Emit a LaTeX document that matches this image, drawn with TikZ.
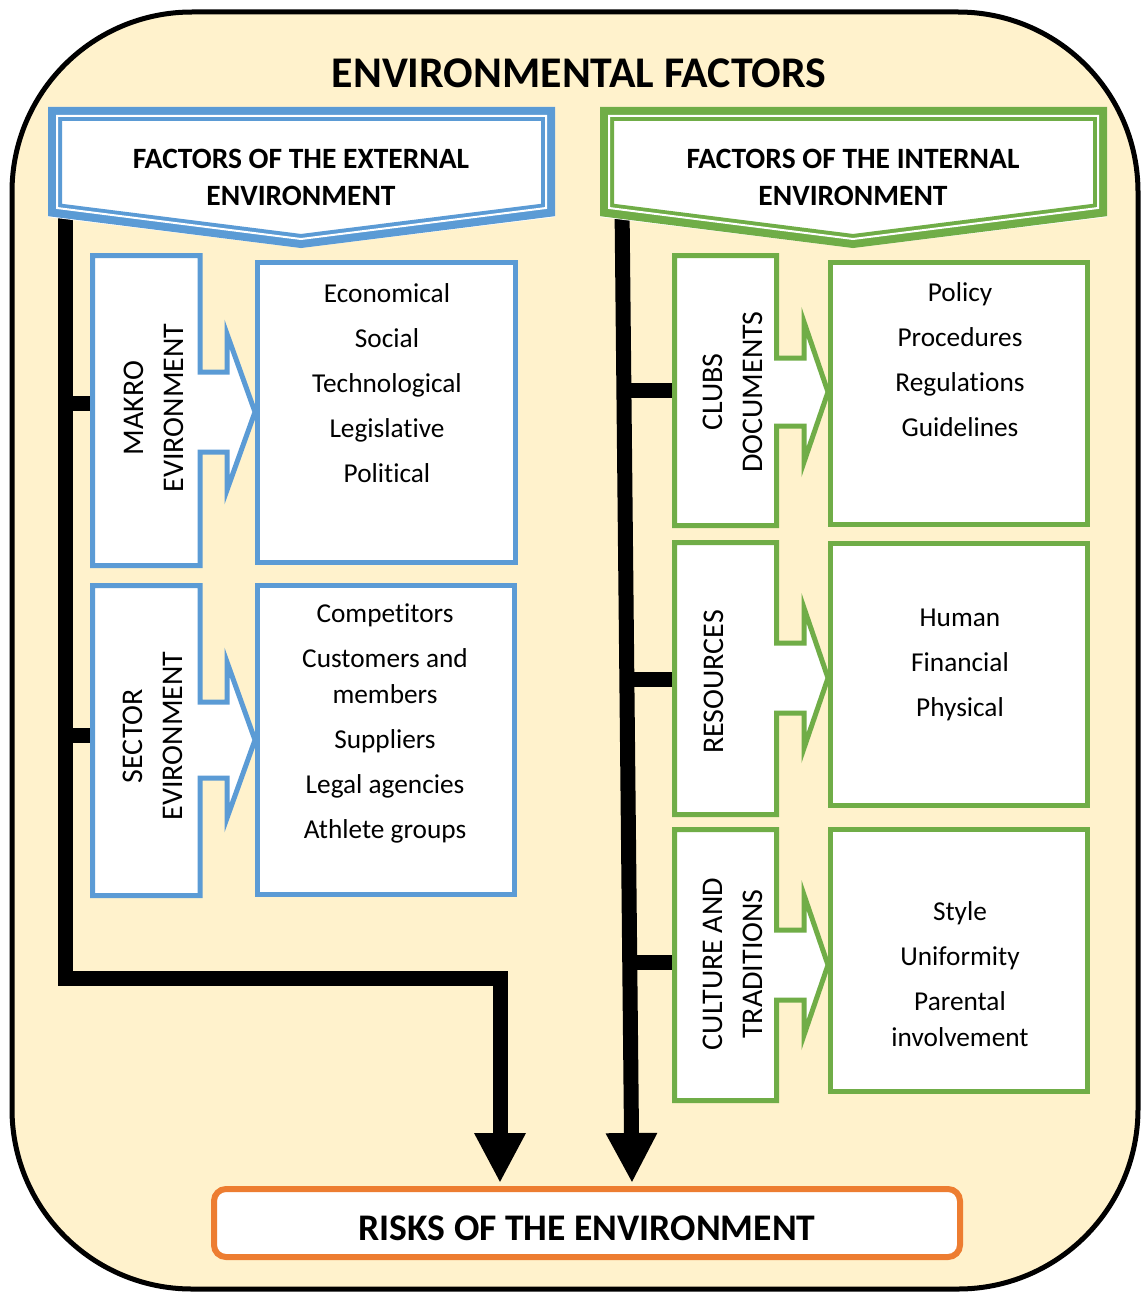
\documentclass[tikz,border=0pt]{standalone}
\usepackage{fontspec}
\setmainfont{Carlito}[Ligatures=NoCommon]
\usetikzlibrary{arrows.meta}
\definecolor{bgy}{RGB}{255,242,204}
\definecolor{cblue}{RGB}{91,155,213}
\definecolor{cgreen}{RGB}{112,173,71}
\definecolor{corange}{RGB}{237,125,49}
\def\HH{78}
% #1 colour, #2 L, #3 R, #4 shoulder x, #5 tip x, #6 top, #7 bottom, #8 centre y, #9 half shaft
\newcommand\notchshape[9]{%
  \draw[#1, line width=5pt, fill=white, line join=miter]
   (#2,#6) -- (#3,#6) -- (#3,#8-#9) -- (#4,#8-#9) -- (#4,#8-\HH) -- (#5,#8)
   -- (#4,#8+\HH) -- (#4,#8+#9) -- (#3,#8+#9) -- (#3,#7) -- (#2,#7) -- cycle;}
\newcommand\hdrshape[2]{%
  \begin{scope}[xshift=#2pt]
  \fill[white] (48,107) -- (555,107) -- (555,217) -- (301,248) -- (48,217) -- cycle;
  \draw[#1, line width=14pt, line join=miter] (55,114) -- (548,114) -- (548,210) -- (301,241) -- (55,210) -- cycle;
  \draw[white, line width=2pt, line join=miter] (57,116) -- (546,116) -- (546,208) -- (301,239) -- (57,208) -- cycle;
  \end{scope}}
\begin{document}
\begin{tikzpicture}[x=1pt,y=-1pt,
  conn/.style={line width=15pt, draw=black},
  tipd/.style={-{Triangle[width=48pt,length=50pt]}},
  listbox/.style={draw, line width=5pt, fill=white, inner sep=0pt},
  listtxt/.style={align=center, font=\fontsize{27.3}{35.5}\selectfont, inner sep=0pt},
  vlab/.style={rotate=90, align=center, font=\fontsize{30}{40}\selectfont, inner sep=0pt},
  hdrtxt/.style={align=center, font=\bfseries\fontsize{29.5}{37}\selectfont, inner sep=0pt}]
\useasboundingbox (0,0) rectangle (1140,1292);
% outer frame
\draw[line width=5pt, fill=bgy, rounded corners=180pt] (12,12) rectangle (1138,1289);
\node[font=\bfseries\fontsize{43.8}{50}\selectfont, inner sep=0pt] (title) at (579,73) {ENVIRONMENTAL FACTORS};

% risks box
\node[draw=corange, line width=6pt, rounded corners=12pt, fill=white, minimum width=746pt, minimum height=68pt,
      font=\bfseries\fontsize{37.6}{44}\selectfont, text height=34pt, text depth=0pt, inner sep=0pt] (risks) at (587,1223) {RISKS OF THE ENVIRONMENT};

% connector coordinates
\coordinate (extfoot) at (65,205);
\coordinate (intfoot) at (622,205);
\coordinate (leftend) at (500,1183);
\coordinate (rightend) at (632,1183);
\coordinate (makroL) at (93,403);
\coordinate (sectorL) at (93,735);
\coordinate (clubsL) at (675,390);
\coordinate (resL) at (675,679);
\coordinate (cultL) at (675,962);

% main connectors
\draw[conn, tipd] (extfoot) |- (leftend |- 0,978) -- (leftend);
\draw[conn, tipd] (intfoot) -- (rightend);
\draw[conn] (65,403) -- (makroL);
\draw[conn] (65,735) -- (sectorL);
\draw[conn] (623.8,390) -- (clubsL);
\draw[conn] (626.8,679) -- (resL);
\draw[conn] (629.7,962) -- (cultL);

% headers
\hdrshape{cblue}{0}
\hdrshape{cgreen}{552}
\node[hdrtxt] (hext) at (301,177) {FACTORS OF THE EXTERNAL\\ENVIRONMENT};
\node[hdrtxt] (hint) at (853,177) {FACTORS OF THE INTERNAL\\ENVIRONMENT};

% left column
\notchshape{cblue}{92.5}{200}{227}{255}{255.5}{565.5}{412}{40}
\notchshape{cblue}{92.5}{200}{227}{255}{585.5}{895.5}{740}{38}
\node[listbox, draw=cblue, minimum width=258pt, minimum height=300pt] (makrolist) at (386.5,412.5) {};
\node[listbox, draw=cblue, minimum width=257pt, minimum height=309pt] (sectorlist) at (386,740) {};
\node[vlab] (makro) at (154,408) {MAKRO\\EVIRONMENT};
\node[vlab] (sector) at (153,736) {SECTOR\\EVIRONMENT};
\node[listtxt] (makrotxt) at (387,383) {Economical\\[9.5pt]Social\\[9.5pt]Technological\\[9.5pt]Legislative\\[9.5pt]Political};
\node[listtxt] (sectortxt) at (385,723.5) {Competitors\\[9.5pt]Customers and\\members\\[9.5pt]Suppliers\\[9.5pt]Legal agencies\\[9.5pt]Athlete groups};

% right column
\def\HH{70}
\notchshape{cgreen}{674.5}{776.5}{804}{828}{255.5}{525.5}{392}{34}
\notchshape{cgreen}{674.5}{776.5}{804}{828}{542.5}{814.5}{678}{35}
\notchshape{cgreen}{674.5}{776.5}{804}{828}{829.5}{1100.5}{965}{35}
\node[listbox, draw=cgreen, minimum width=257pt, minimum height=262pt] (clubslist) at (959,393.5) {};
\node[listbox, draw=cgreen, minimum width=257pt, minimum height=262pt] (reslist) at (959,674.5) {};
\node[listbox, draw=cgreen, minimum width=257pt, minimum height=262pt] (cultlist) at (959,960.5) {};
\node[vlab] (clubs) at (732.5,392) {CLUBS\\DOCUMENTS};
\node[vlab] (res) at (714,682) {RESOURCES};
\node[vlab] (cult) at (733,964) {CULTURE AND\\TRADITIONS};
\node[listtxt] (clubstxt) at (960,359.5) {Policy\\[9.5pt]Procedures\\[9.5pt]Regulations\\[9.5pt]Guidelines};
\node[listtxt] (restxt) at (960,664.5) {Human\\[9.5pt]Financial\\[9.5pt]Physical};
\node[listtxt] (culttxt) at (960,974) {Style\\[9.5pt]Uniformity\\[9.5pt]Parental\\involvement};
\end{tikzpicture}
\end{document}
